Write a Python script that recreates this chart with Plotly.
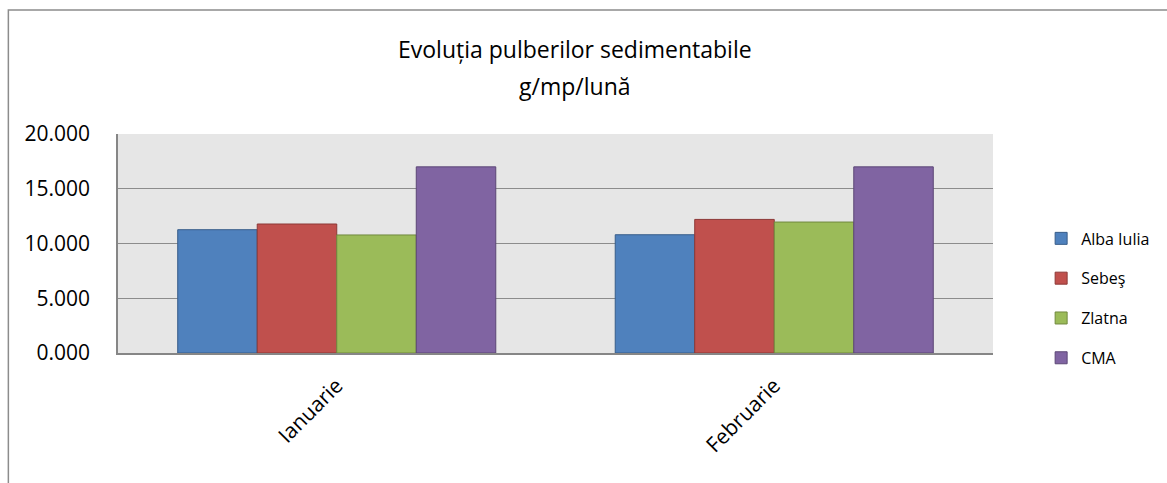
import plotly.graph_objects as go

# data (g/mp/luna)
months = ['Ianuarie', 'Februarie']
alba_iulia = [11.26, 10.80]
sebes = [11.78, 12.20]
zlatna = [10.78, 11.96]
cma = [17.0, 17.0]

series = [
  ('Alba Iulia', alba_iulia, '#4F81BD', '#385D8A'),
  ('Sebeş', sebes, '#C0504D', '#8C3836'),
  ('Zlatna', zlatna, '#9BBB59', '#71893F'),
  ('CMA', cma, '#8064A2', '#5C4776'),
]

fig = go.Figure()
for i, (name, vals, col, edge) in enumerate(series):
  fig.add_trace(go.Bar(x=months, y=vals, name=name, legendgroup=str(i),
                       marker=dict(color=col, line=dict(color=edge, width=1))))

# title, two lines like the excel chart
fig.add_annotation(text='Evoluția pulberilor sedimentabile', xref='paper', yref='paper',
                   x=0.522, y=1.386, xanchor='center', yanchor='middle', showarrow=False,
                   font=dict(size=23, color='black'))
fig.add_annotation(text='g/mp/lună', xref='paper', yref='paper',
                   x=0.522, y=1.22, xanchor='center', yanchor='middle', showarrow=False,
                   font=dict(size=23, color='black'))

# outer chart border
fig.add_shape(type='rect', xref='paper', yref='paper', x0=-0.1253, y0=-0.7, x1=1.2, y1=1.566,
              line=dict(color='#8C8C8C', width=1.5), layer='below')

fig.update_layout(
  width=1167, height=483,
  margin=dict(l=118, r=163, t=134, b=130),
  font=dict(family='Open Sans', size=21, color='black'),
  paper_bgcolor='white',
  plot_bgcolor='#E6E6E6',
  barmode='group',
  bargap=0.273,
  bargroupgap=0,
  showlegend=True,
  legend=dict(x=1.055, y=0.249, xanchor='left', yanchor='middle', font=dict(size=16),
              tracegroupgap=16, bgcolor='rgba(0,0,0,0)'),
  xaxis=dict(tickangle=-45, showline=True, linecolor='#868686', linewidth=2,
             ticks='', tickfont=dict(size=21), ticklabelstandoff=10),
  yaxis=dict(range=[0, 20], dtick=5, tickformat='.3f', showgrid=True, gridcolor='#8C8C8C',
             gridwidth=1.3, showline=True, linecolor='#868686', linewidth=1.5,
             zeroline=False, ticks='', tickfont=dict(size=21), ticklabelstandoff=22),
)

# drop the default body margin so the chart sits at the page corner
fig.write_html("out.html", config={'displayModeBar': False},
               post_script="document.body.style.margin='0px';")
